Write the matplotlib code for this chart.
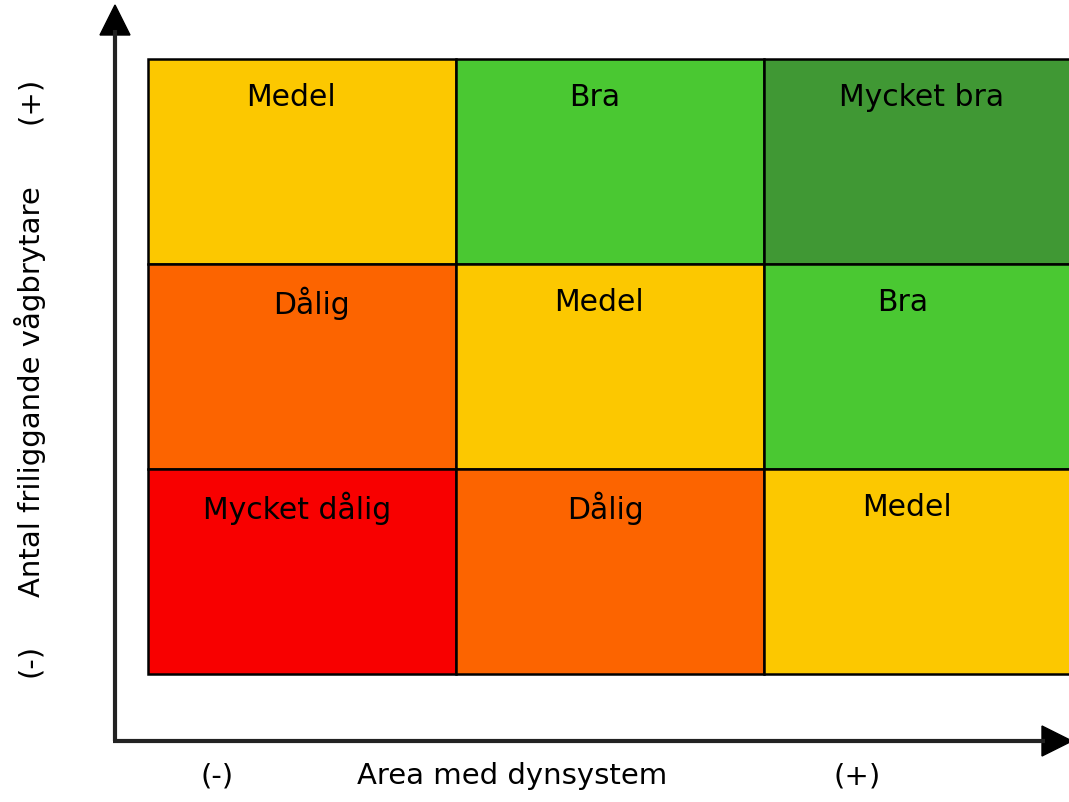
import matplotlib.pyplot as plt
from matplotlib.patches import Rectangle

# grid of ratings, row 0 = top (+), col 0 = left (-)
labels = [['Medel', 'Bra', 'Mycket bra'],
          ['Dålig', 'Medel', 'Bra'],
          ['Mycket dålig', 'Dålig', 'Medel']]
colours = {'Mycket dålig': '#f80000', 'Dålig': '#fc6400', 'Medel': '#fcc800',
           'Bra': '#4ac832', 'Mycket bra': '#409834'}
# horizontal text offsets within each cell (cell units)
xoff = [[-0.036, -0.049, 0.013],
        [0.032, -0.036, -0.049],
        [-0.016, -0.016, -0.036]]
xlabel = 'Area med dynsystem'
ylabel = 'Antal friliggande vågbrytare'

W, H = 1069, 802
fig = plt.figure(figsize=(W / 100, H / 100), dpi=100)
plt.rcParams['font.family'] = 'DejaVu Sans'

# overlay in pixel coords for arrows and axis texts
bg = fig.add_axes([0, 0, 1, 1])
bg.set_xlim(0, W)
bg.set_ylim(H, 0)
bg.axis('off')
bg.plot([115, 115], [741, 30], color='#222222', lw=3, solid_capstyle='butt')
bg.plot([113, 1045], [741, 741], color='#222222', lw=3, solid_capstyle='butt')
bg.fill([100, 130, 115], [35, 35, 5], color='black')
bg.fill([1042, 1042, 1072], [726, 756, 741], color='black')

afs = 21
bg.text(512, 776, xlabel, ha='center', va='center', fontsize=afs)
bg.text(217, 776, '(-)', ha='center', va='center', fontsize=afs)
bg.text(857, 776, '(+)', ha='center', va='center', fontsize=afs)
bg.text(30, 392, ylabel, ha='center', va='center', rotation=90, fontsize=afs)
bg.text(30, 100, '(+)', ha='center', va='center', rotation=90, fontsize=afs)
bg.text(30, 660, '(-)', ha='center', va='center', rotation=90, fontsize=afs)

# grid axes
x0, x1, y0, y1 = 148, 1072, 59, 674
ax = fig.add_axes([x0 / W, 1 - y1 / H, (x1 - x0) / W, (y1 - y0) / H])
ax.set_xlim(0, 3)
ax.set_ylim(3, 0)
ax.axis('off')
for r, row in enumerate(labels):
    for c, lab in enumerate(row):
        ax.add_patch(Rectangle((c, r), 1, 1, facecolor=colours[lab],
                               edgecolor='black', lw=1.8, clip_on=False))
        ax.text(c + 0.5 + xoff[r][c], r + 0.19, lab, ha='center', va='center',
                fontsize=21.5)

fig.savefig('out.png', dpi=100)
